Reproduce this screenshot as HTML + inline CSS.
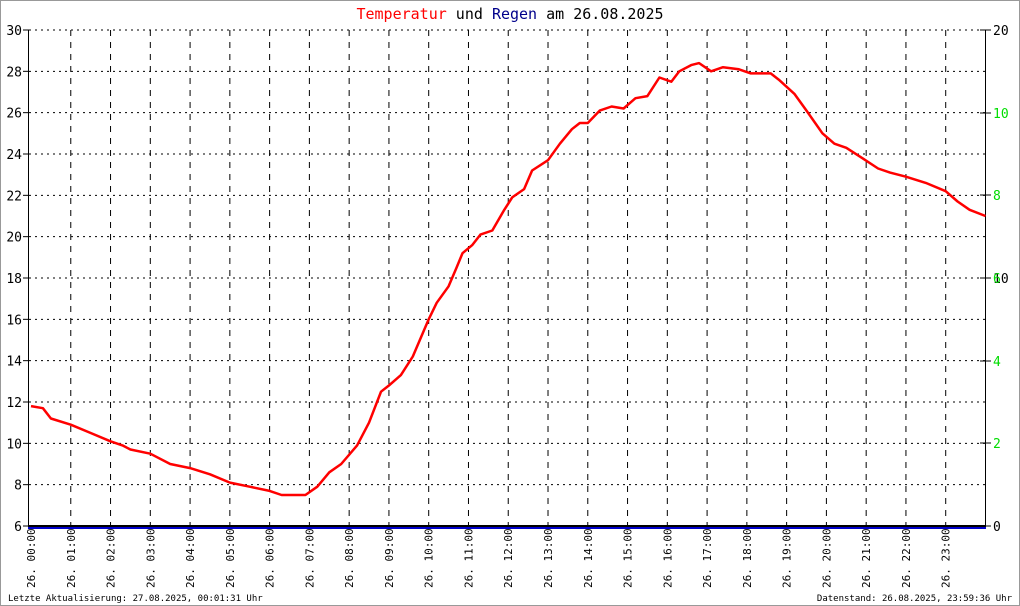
<!DOCTYPE html>
<html><head><meta charset="utf-8"><style>
html,body{margin:0;padding:0;background:#fff}
svg{display:block}
text{font-family:"DejaVu Sans Mono","Liberation Mono",monospace}
</style></head><body>
<svg id="s" width="1020" height="606" xmlns="http://www.w3.org/2000/svg">
<rect x="0.5" y="0.5" width="1019" height="605" fill="#fff" stroke="#999"/>
<text x="510" y="19" text-anchor="middle" font-size="15"><tspan fill="#f00">Temperatur</tspan> und <tspan fill="#00008b">Regen</tspan> am 26.08.2025</text>
<g id="grid"></g>
<line x1="28.5" y1="30" x2="28.5" y2="527" stroke="#000"/>
<line x1="985.5" y1="30" x2="985.5" y2="527" stroke="#000"/>
<line x1="28" y1="526" x2="986" y2="526" stroke="#000" stroke-width="2"/>
<line x1="28" y1="528" x2="986" y2="528" stroke="#00c" stroke-width="2"/>
<g id="lab" font-size="13"></g>
<polyline id="t" fill="none" stroke="#f00" stroke-width="2.5" stroke-linejoin="round"/>
<text x="8" y="601" font-size="9">Letzte Aktualisierung: 27.08.2025, 00:01:31 Uhr</text>
<text x="1012" y="601" font-size="9" text-anchor="end">Datenstand: 26.08.2025, 23:59:36 Uhr</text>
</svg>
<script>
var NS="http://www.w3.org/2000/svg";
function el(p,n,a,t){var e=document.createElementNS(NS,n);for(var k in a)e.setAttribute(k,a[k]);if(t!=null)e.textContent=t;document.getElementById(p).appendChild(e);return e;}
var X0=31,XW=39.77,Y=function(T){return 526-(T-6)*20.667;};
for(var v=6;v<=30;v+=2){var y=Y(v);
 if(v>6)el('grid','line',{x1:29,y1:y,x2:985,y2:y,stroke:'#000','stroke-dasharray':'2,4'});
 el('grid','line',{x1:23,y1:y,x2:29,y2:y,stroke:'#000'});
 el('lab','text',{x:22,y:y+5,'text-anchor':'end'},String(v));}
for(var h=1;h<24;h++){var x=X0+h*XW;el('grid','line',{x1:x,y1:30,x2:x,y2:526,stroke:'#000','stroke-dasharray':'6,6'});}
var rl=[[30,'20','#000'],[113,'10','#0d0'],[195,'8','#0d0'],[278,'10','#000'],[278,'6','#0d0'],[361,'4','#0d0'],[443,'2','#0d0'],[526,'0','#000']];
rl.forEach(function(r){el('grid','line',{x1:980,y1:r[0],x2:991,y2:r[0],stroke:'#000'});el('lab','text',{x:993,y:r[0]+5,fill:r[2]},r[1]);});
for(var h=0;h<24;h++){var x=X0+h*XW+4;var hh=(h<10?'0':'')+h;el('lab','text',{x:0,y:0,'font-size':'11',transform:'translate('+x+',588) rotate(-90)'},'26. '+hh+':00');}
var d=[[0,11.8],[0.3,11.7],[0.5,11.2],[1,10.9],[1.5,10.5],[2,10.1],[2.3,9.9],[2.5,9.7],[3,9.5],[3.5,9.0],[4,8.8],[4.5,8.5],[5,8.1],[5.5,7.9],[6,7.7],[6.3,7.5],[6.9,7.5],[7.2,7.9],[7.5,8.6],[7.8,9.0],[8.2,9.9],[8.5,11.0],[8.8,12.5],[9,12.8],[9.3,13.3],[9.6,14.2],[10,16.0],[10.2,16.8],[10.5,17.6],[10.7,18.5],[10.85,19.2],[11.1,19.6],[11.3,20.1],[11.6,20.3],[11.9,21.3],[12.1,21.9],[12.4,22.3],[12.6,23.2],[13,23.7],[13.3,24.5],[13.6,25.2],[13.8,25.5],[14,25.5],[14.3,26.1],[14.6,26.3],[14.9,26.2],[15.2,26.7],[15.5,26.8],[15.8,27.7],[16.1,27.5],[16.3,28.0],[16.6,28.3],[16.8,28.4],[17.1,28.0],[17.4,28.2],[17.8,28.1],[18.1,27.9],[18.6,27.9],[18.8,27.6],[19.2,26.9],[19.5,26.1],[19.9,25.0],[20.2,24.5],[20.5,24.3],[20.9,23.8],[21.3,23.3],[21.6,23.1],[22,22.9],[22.5,22.6],[23,22.2],[23.3,21.7],[23.6,21.3],[24,21.0]];
document.getElementById('t').setAttribute('points',d.map(function(p){return (X0+p[0]*XW).toFixed(1)+','+Y(p[1]).toFixed(1);}).join(' '));
</script>
</body></html>
